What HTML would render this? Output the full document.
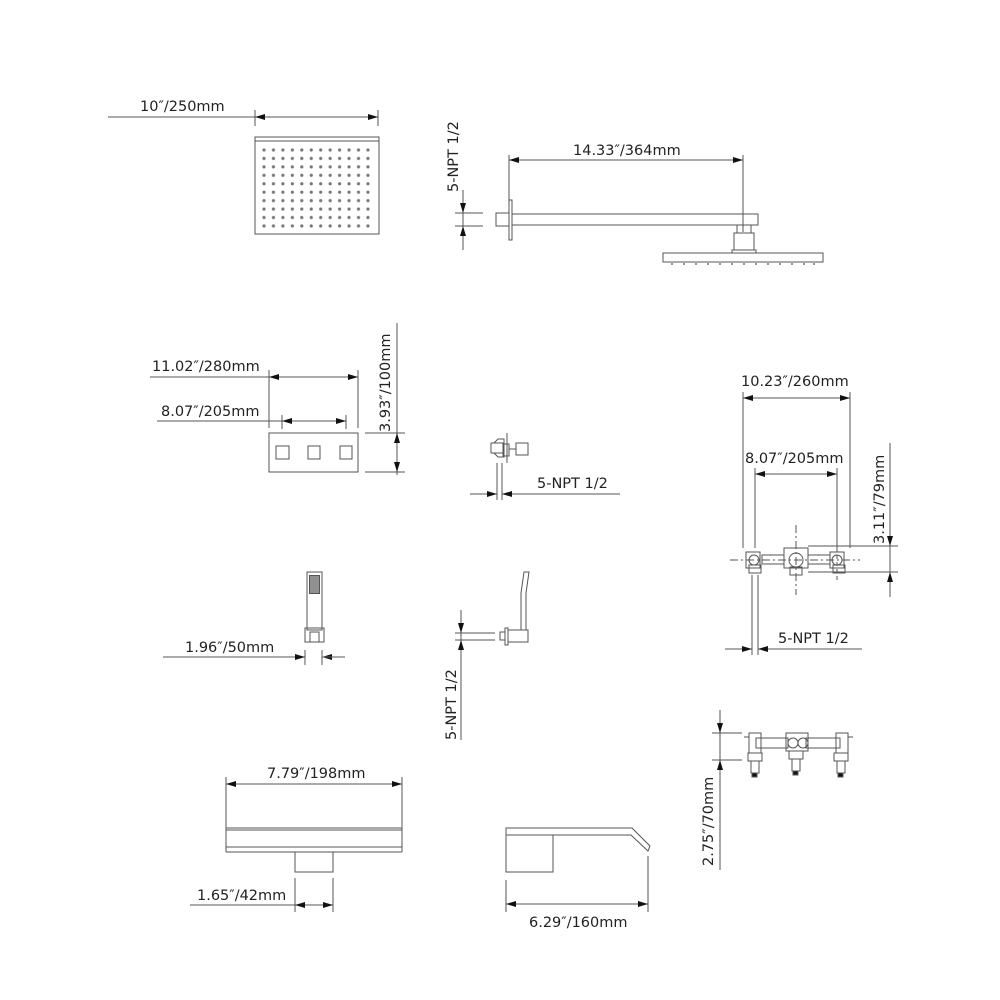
<!DOCTYPE html>
<html><head><meta charset="utf-8"><style>
html,body{margin:0;padding:0;background:#fff;}
svg{display:block}
text{font-family:"DejaVu Sans","Liberation Sans",sans-serif;font-size:14.5px;fill:#222;}
</style></head><body>
<svg width="1000" height="1000" viewBox="0 0 1000 1000" xmlns="http://www.w3.org/2000/svg">
<defs>
<marker id="a" viewBox="0 0 10 6" refX="10" refY="3" markerWidth="10" markerHeight="6" markerUnits="userSpaceOnUse" orient="auto-start-reverse"><path d="M0,0 L10,3 L0,6 Z" fill="#111"/></marker>
<pattern id="dp" patternUnits="userSpaceOnUse" x="259.27" y="145.78" width="9.45" height="8.44"><circle cx="4.73" cy="4.22" r="1.6" fill="#777"/></pattern>
</defs>
<rect x="259.27" y="145.78" width="113.4" height="84.4" fill="url(#dp)"/>
<g stroke="#555" stroke-width="1" fill="none">
<!-- Item 1 -->
<line x1="108" y1="117" x2="255" y2="117"/>
<line x1="255" y1="117" x2="378" y2="117" marker-start="url(#a)" marker-end="url(#a)"/>
<line x1="255" y1="110" x2="255" y2="126"/><line x1="378" y1="110" x2="378" y2="126"/>
<rect x="255" y="137" width="124" height="97"/>
<line x1="255" y1="141" x2="379" y2="141"/>
<!-- Item 2 -->
<line x1="463" y1="190" x2="463" y2="250"/>
<line x1="463" y1="195" x2="463" y2="213" marker-end="url(#a)"/>
<line x1="463" y1="243" x2="463" y2="226" marker-end="url(#a)"/>
<line x1="455" y1="213" x2="483" y2="213"/><line x1="455" y1="226" x2="483" y2="226"/>
<rect x="496" y="213" width="13" height="13"/>
<rect x="509" y="200" width="3" height="40"/>
<rect x="512" y="214" width="246" height="11"/>
<line x1="509" y1="155" x2="509" y2="200"/><line x1="743" y1="155" x2="743" y2="232"/>
<line x1="509" y1="160" x2="743" y2="160" marker-start="url(#a)" marker-end="url(#a)"/>
<rect x="737" y="225" width="14" height="8"/>
<rect x="734" y="233" width="20" height="17"/>
<rect x="732" y="250" width="24" height="3"/>
<rect x="663" y="253" width="160" height="9"/>
<path d="M672,263v2 M684,263v2 M696,263v2 M708,263v2 M720,263v2 M732,263v2 M744,263v2 M756,263v2 M768,263v2 M780,263v2 M792,263v2 M804,263v2 M814,263v2" stroke="#333"/>
<!-- Item 3 -->
<line x1="150" y1="377" x2="269" y2="377"/>
<line x1="269" y1="377" x2="358" y2="377" marker-start="url(#a)" marker-end="url(#a)"/>
<line x1="269" y1="370" x2="269" y2="428"/><line x1="358" y1="370" x2="358" y2="428"/>
<line x1="157" y1="421" x2="282" y2="421"/>
<line x1="282" y1="421" x2="346" y2="421" marker-start="url(#a)" marker-end="url(#a)"/>
<line x1="282" y1="415" x2="282" y2="429"/><line x1="346" y1="415" x2="346" y2="429"/>
<rect x="269" y="433" width="89" height="39"/>
<rect x="276" y="446" width="13" height="13"/><rect x="308" y="446" width="12" height="13"/><rect x="340" y="446" width="12" height="13"/>
<line x1="365" y1="433" x2="405" y2="433"/><line x1="365" y1="472" x2="405" y2="472"/>
<line x1="397" y1="323" x2="397" y2="475"/>
<line x1="397" y1="452" x2="397" y2="433" marker-end="url(#a)"/>
<line x1="397" y1="452" x2="397" y2="472" marker-end="url(#a)"/>
<!-- Item 4 -->
<line x1="507" y1="433" x2="507" y2="463"/>
<rect x="491" y="443" width="12" height="10"/>
<path d="M494,443 l4,-4 h6 v18 h-6 l-4,-4"/>
<rect x="503" y="444" width="6" height="12"/>
<rect x="516" y="443" width="12" height="12"/>
<line x1="509" y1="449" x2="516" y2="449"/>
<line x1="497" y1="463" x2="497" y2="500"/><line x1="502" y1="463" x2="502" y2="500"/>
<line x1="502" y1="494" x2="620" y2="494"/>
<line x1="470" y1="494" x2="497" y2="494" marker-end="url(#a)"/>
<line x1="515" y1="494" x2="502" y2="494" marker-end="url(#a)"/>
<!-- Item 5 -->
<line x1="743" y1="392" x2="743" y2="548"/><line x1="850" y1="392" x2="850" y2="548"/>
<line x1="743" y1="398" x2="850" y2="398" marker-start="url(#a)" marker-end="url(#a)"/>
<line x1="755" y1="468" x2="755" y2="548"/><line x1="837" y1="468" x2="837" y2="548"/>
<line x1="755" y1="474" x2="837" y2="474" marker-start="url(#a)" marker-end="url(#a)"/>
<line x1="730" y1="560" x2="860" y2="560" stroke-dasharray="8,3,2,3"/>
<line x1="796" y1="525" x2="796" y2="595" stroke-dasharray="8,3,2,3"/>
<line x1="837" y1="548" x2="837" y2="580" stroke-dasharray="4,3"/>
<rect x="762" y="555" width="22" height="9"/><rect x="808" y="555" width="22" height="9"/>
<rect x="746" y="552" width="14" height="16"/><rect x="830" y="552" width="14" height="16"/>
<rect x="784" y="548" width="24" height="20"/>
<circle cx="754" cy="560" r="5"/><circle cx="796" cy="560" r="7"/><circle cx="837" cy="560" r="5"/>
<rect x="749" y="565" width="12" height="8"/><rect x="833" y="565" width="12" height="8"/><rect x="790" y="567" width="12" height="8"/>
<line x1="808" y1="546" x2="898" y2="546"/><line x1="808" y1="572" x2="898" y2="572"/>
<line x1="890" y1="443" x2="890" y2="597"/>
<line x1="890" y1="530" x2="890" y2="546" marker-end="url(#a)"/>
<line x1="890" y1="590" x2="890" y2="572" marker-end="url(#a)"/>
<line x1="752" y1="575" x2="752" y2="655"/><line x1="758" y1="575" x2="758" y2="655"/>
<line x1="758" y1="649" x2="862" y2="649"/>
<line x1="725" y1="649" x2="752" y2="649" marker-end="url(#a)"/>
<line x1="772" y1="649" x2="758" y2="649" marker-end="url(#a)"/>
<!-- Item 6 -->
<rect x="307" y="572" width="15" height="58"/>
<path d="M310,576v17 M312,576v17 M314,576v17 M316,576v17 M318,576v17" stroke="#222"/>
<rect x="309.5" y="575.5" width="10" height="18"/>
<rect x="305" y="628" width="19" height="14"/>
<rect x="310" y="632" width="9" height="10"/>
<line x1="305" y1="650" x2="305" y2="665"/><line x1="322" y1="650" x2="322" y2="665"/>
<line x1="163" y1="657" x2="305" y2="657"/>
<line x1="290" y1="657" x2="305" y2="657" marker-end="url(#a)"/>
<line x1="337" y1="657" x2="322" y2="657" marker-end="url(#a)"/>
<line x1="322" y1="657" x2="345" y2="657"/>
<!-- Item 7 -->
<line x1="461" y1="610" x2="461" y2="740"/>
<line x1="461" y1="618" x2="461" y2="633" marker-end="url(#a)"/>
<line x1="461" y1="650" x2="461" y2="640" marker-end="url(#a)"/>
<line x1="455" y1="633" x2="495" y2="633"/><line x1="455" y1="640" x2="495" y2="640"/>
<rect x="500" y="632" width="5" height="8"/>
<rect x="505" y="628" width="3" height="17"/>
<rect x="508" y="630" width="20" height="12"/>
<path d="M521,630 V593 L524,572 H529 L526,593 V630"/>
<!-- Item 8 -->
<line x1="226" y1="777" x2="226" y2="852"/><line x1="402" y1="777" x2="402" y2="852"/>
<line x1="226" y1="784" x2="402" y2="784" marker-start="url(#a)" marker-end="url(#a)"/>
<line x1="226" y1="828" x2="402" y2="828"/><line x1="226" y1="830" x2="402" y2="830"/>
<line x1="226" y1="847" x2="402" y2="847"/><line x1="226" y1="852" x2="402" y2="852"/>
<rect x="295" y="852" width="38" height="20"/>
<line x1="295" y1="878" x2="295" y2="912"/><line x1="333" y1="878" x2="333" y2="912"/>
<line x1="190" y1="905" x2="295" y2="905"/>
<line x1="295" y1="905" x2="333" y2="905" marker-start="url(#a)" marker-end="url(#a)"/>
<!-- Item 9 -->
<path d="M506,872 V828 H632 L650,846 L648,851 L631,835 H506"/>
<rect x="506" y="835" width="47" height="37"/>
<line x1="506" y1="880" x2="506" y2="912"/><line x1="648" y1="856" x2="648" y2="912"/>
<line x1="506" y1="904" x2="648" y2="904" marker-start="url(#a)" marker-end="url(#a)"/>
<!-- Item 10 -->
<line x1="720" y1="710" x2="720" y2="870"/>
<line x1="720" y1="718" x2="720" y2="733" marker-end="url(#a)"/>
<line x1="720" y1="775" x2="720" y2="760" marker-end="url(#a)"/>
<line x1="712" y1="733" x2="742" y2="733"/><line x1="712" y1="760" x2="742" y2="760"/>
<rect x="756" y="738" width="32" height="10"/><rect x="806" y="738" width="34" height="10"/>
<rect x="749" y="733" width="12" height="20"/><rect x="836" y="733" width="12" height="20"/>
<path d="M744,737 h5 M848,737 h5"/>
<rect x="786" y="733" width="22" height="18"/>
<circle cx="793" cy="743" r="5"/><circle cx="803" cy="743" r="5"/>
<rect x="748" y="753" width="14" height="8"/><rect x="834" y="753" width="14" height="8"/><rect x="789" y="751" width="14" height="8"/>
<rect x="751" y="761" width="8" height="12"/><rect x="837" y="761" width="8" height="12"/><rect x="792" y="759" width="8" height="12"/>
<rect x="752" y="773" width="5" height="4" fill="#111"/><rect x="838" y="773" width="5" height="4" fill="#111"/><rect x="793" y="771" width="5" height="4" fill="#111"/>
</g>
<g>
<text x="140" y="111">10″/250mm</text>
<text x="573" y="155">14.33″/364mm</text>
<text transform="translate(458,192) rotate(-90)">5-NPT 1/2</text>
<text x="152" y="371">11.02″/280mm</text>
<text x="161" y="416">8.07″/205mm</text>
<text transform="translate(390,432) rotate(-90)">3.93″/100mm</text>
<text x="537" y="488">5-NPT 1/2</text>
<text x="741" y="386">10.23″/260mm</text>
<text x="745" y="463">8.07″/205mm</text>
<text transform="translate(884,544) rotate(-90)">3.11″/79mm</text>
<text x="778" y="643">5-NPT 1/2</text>
<text x="185" y="652">1.96″/50mm</text>
<text transform="translate(456,740) rotate(-90)">5-NPT 1/2</text>
<text x="267" y="778">7.79″/198mm</text>
<text x="197" y="900">1.65″/42mm</text>
<text x="529" y="927">6.29″/160mm</text>
<text transform="translate(713,866) rotate(-90)">2.75″/70mm</text>
</g>
</svg>
</body></html>
